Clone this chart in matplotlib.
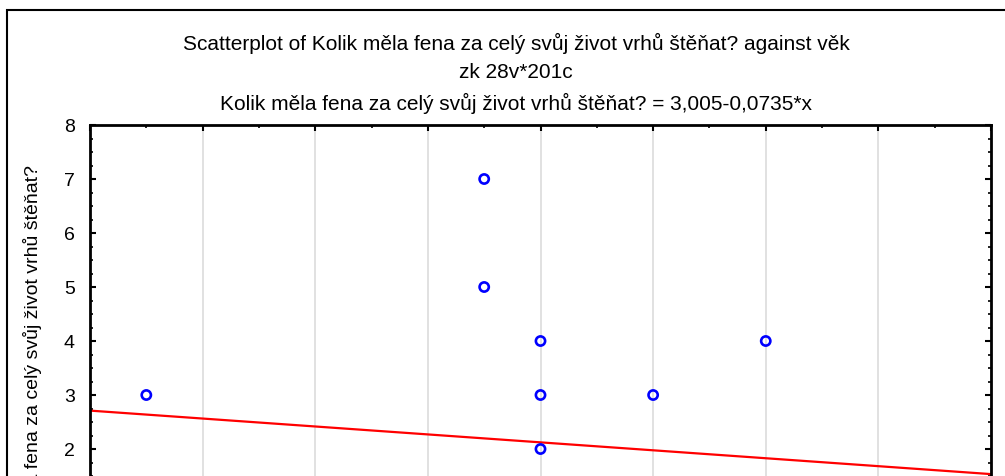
import numpy as np
import matplotlib.pyplot as plt
from matplotlib.patches import Rectangle
from matplotlib.ticker import MultipleLocator, FixedLocator

plt.rcParams['font.family'] = ['Liberation Sans', 'DejaVu Sans']

# visible data points (age vs number of litters)
vek = [5, 11, 11, 12, 12, 12, 14, 16]
vrhy = [3, 7, 5, 4, 3, 2, 3, 4]

# regression from the title
intercept = 3.005
slope = -0.0735
x_range = [4, 20]
y_ticks = [2, 3, 4, 5, 6, 7, 8]

title_lines = [
    "Scatterplot of Kolik měla fena za celý svůj život vrhů štěňat? against věk",
    "zk 28v*201c",
    "Kolik měla fena za celý svůj život vrhů štěňat? = 3,005-0,0735*x",
]
ylabel = "Kolik měla fena za celý svůj život vrhů štěňat?"

W, H = 1005, 477
fig = plt.figure(figsize=(W / 100, H / 100), dpi=100)

# axes placed in pixel terms; bottom part lies outside the picture
left, right, top = 90, 991, 126
px_per_unit = 54.0
ymin, ymax = 0, 8
ax_h = (ymax - ymin) * px_per_unit
ax = fig.add_axes([left / W, 1 - (top + ax_h) / H, (right - left) / W, ax_h / H])

ax.set_xlim(*x_range)
ax.set_ylim(ymin, ymax)
ax.xaxis.set_major_locator(MultipleLocator(2))
ax.xaxis.set_minor_locator(MultipleLocator(1))
ax.yaxis.set_major_locator(FixedLocator(y_ticks))
ax.yaxis.set_minor_locator(MultipleLocator(0.25))
ax.grid(axis='x', which='major', color='#dcdcdc', linewidth=1.2)
ax.set_axisbelow(True)

ax.tick_params(which='both', direction='in', top=True, right=True, colors='black')
ax.tick_params(which='major', length=4, width=1.5, labelsize=14)
ax.tick_params(which='minor', length=2.5, width=1.2)
ax.tick_params(axis='x', labelbottom=False)
ax.tick_params(axis='y', pad=11)
for s in ax.spines.values():
    s.set_linewidth(2)

xs = np.array(x_range)
ax.plot(xs, intercept + slope * xs, color='red', linewidth=1.6)
ax.scatter(vek, vrhy, s=44, facecolors='none', edgecolors='blue', linewidths=1.9, zorder=3)

for i, line in enumerate(title_lines):
    fig.text(516 / W, 1 - (43 + 30 * i) / H, line, ha='center', va='center', fontsize=15)

fig.text(33 / W, 1 - 165 / H, ylabel, rotation=90, ha='center', va='top', fontsize=14)

# outer frame around the whole chart
fig.patches.append(Rectangle((7 / W, -0.1), 1.2, 1.1 - 11 / H, transform=fig.transFigure,
                             fill=False, edgecolor='black', linewidth=1.5))

fig.savefig("out.png", dpi=100)
